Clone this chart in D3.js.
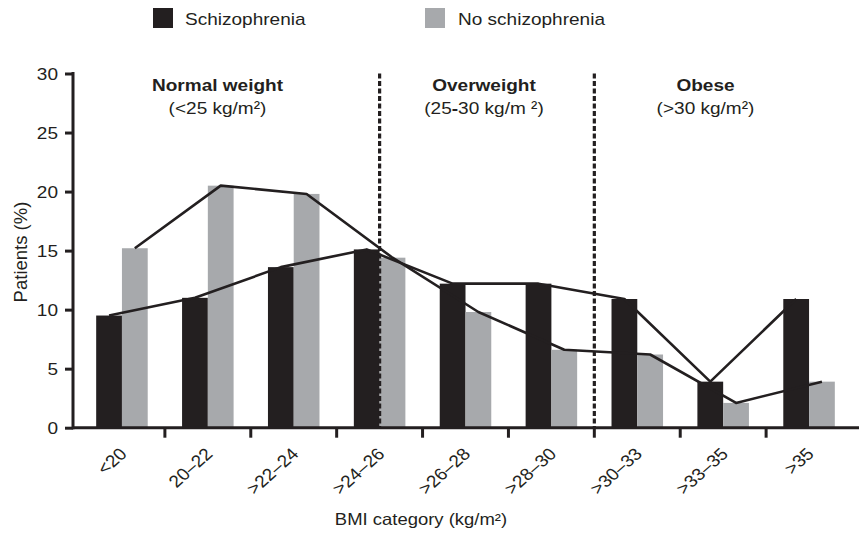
<!DOCTYPE html>
<html>
<head>
<meta charset="utf-8">
<script src="https://cdn.jsdelivr.net/npm/d3@7"></script>
<style>
  html, body { margin: 0; padding: 0; background: #fff; }
  svg { display: block; font-family: "Liberation Sans", Arial, Helvetica, sans-serif; }
</style>
</head>
<body>
<svg id="chart" width="859" height="536"></svg>
<script>
const categories = ["<20", "20–22", ">22–24", ">24–26", ">26–28", ">28–30", ">30–33", ">33–35", ">35"];
const schizophrenia = [9.5, 11.0, 13.6, 15.1, 12.2, 12.2, 10.9, 3.9, 10.9];
const noSchizophrenia = [15.2, 20.5, 19.8, 14.4, 9.8, 6.6, 6.2, 2.1, 3.9];
const yTicks = [0, 5, 10, 15, 20, 25, 30];
const seriesNames = ["Schizophrenia", "No schizophrenia"];
const groupTitles = ["Normal weight", "Overweight", "Obese"];

const BLACK = "#231f20", GRAY = "#a7a9ac";
const SX = 1.12; // horizontal text stretch of the reference
const svg = d3.select("#chart");

const x = d3.scaleBand().domain(categories).range([79, 852]).paddingInner(0.4).paddingOuter(0.2);
const y = d3.scaleLinear().domain([0, 30]).range([427.7, 73.5]);
const bw = x.bandwidth() / 2;
const axisX = 73;

function stext(g, tx, ty, str, opts = {}) {
  return g.append("text")
    .attr("transform", `translate(${tx},${ty}) scale(${SX},1)` + (opts.rotate ? ` rotate(${opts.rotate})` : ""))
    .attr("text-anchor", opts.anchor || "start")
    .attr("font-size", opts.size || 17)
    .attr("font-weight", opts.weight || "normal")
    .attr("fill", BLACK)
    .text(str);
}

// bars
const bars = svg.append("g");
bars.selectAll("rect.s").data(schizophrenia).join("rect")
  .attr("class", "s")
  .attr("x", (d, i) => x(categories[i]))
  .attr("y", d => y(d))
  .attr("width", bw)
  .attr("height", d => y(0) - y(d))
  .attr("fill", BLACK);
bars.selectAll("rect.n").data(noSchizophrenia).join("rect")
  .attr("class", "n")
  .attr("x", (d, i) => x(categories[i]) + bw)
  .attr("y", d => y(d))
  .attr("width", bw)
  .attr("height", d => y(0) - y(d))
  .attr("fill", GRAY);

// dashed separators (BMI 25 and BMI 30)
const sep1 = x(">24–26") + x.bandwidth() / 2;
const sep2 = x(">30–33") - x.step() * x.paddingInner() / 2;
[sep1, sep2].forEach(sx => {
  svg.append("line")
    .attr("x1", sx).attr("x2", sx)
    .attr("y1", y(30)).attr("y2", y(0))
    .attr("stroke", BLACK).attr("stroke-width", 3.2)
    .attr("stroke-dasharray", "5,2.5");
});

// trend lines
const lineS = d3.line().x((d, i) => x(categories[i]) + bw / 2).y(d => y(d));
const lineN = d3.line().x((d, i) => x(categories[i]) + bw * 1.5).y(d => y(d));
svg.append("path").attr("d", lineN(noSchizophrenia))
  .attr("fill", "none").attr("stroke", BLACK).attr("stroke-width", 2.6).attr("stroke-linejoin", "round");
svg.append("path").attr("d", lineS(schizophrenia))
  .attr("fill", "none").attr("stroke", BLACK).attr("stroke-width", 2.6).attr("stroke-linejoin", "round");

// y axis
const yAxis = svg.append("g").attr("transform", `translate(${axisX},0)`)
  .call(d3.axisLeft(y).tickValues(yTicks).tickSize(8).tickPadding(0).tickSizeOuter(0));
yAxis.select(".domain").remove();
yAxis.selectAll(".tick line").attr("stroke", BLACK).attr("stroke-width", 3);
yAxis.selectAll(".tick text").remove();
yAxis.selectAll(".tick").each(function(d) {
  stext(d3.select(this), -15, 6, d, {anchor: "end", size: 17});
});
svg.append("line").attr("x1", axisX).attr("x2", axisX).attr("y1", y(30) - 1.5).attr("y2", y(0) + 1.5)
  .attr("stroke", BLACK).attr("stroke-width", 3);

// x axis line
svg.append("line").attr("x1", axisX).attr("x2", 859).attr("y1", y(0)).attr("y2", y(0))
  .attr("stroke", BLACK).attr("stroke-width", 3);
const boundaries = categories.slice(1).map(c => x(c) - x.step() * x.paddingInner() / 2);
svg.append("g").selectAll("line").data(boundaries).join("line")
  .attr("x1", d => d).attr("x2", d => d)
  .attr("y1", y(0)).attr("y2", y(0) + 10)
  .attr("stroke", BLACK).attr("stroke-width", 3);
const xl = svg.append("g");
categories.forEach(c => {
  stext(xl, x(c) + x.bandwidth() / 2 + 6, 455, c, {anchor: "end", size: 17, rotate: -45});
});

// axis titles
stext(svg, 421, 525, "BMI category (kg/m²)", {anchor: "middle", size: 16.5});
svg.append("text")
  .attr("transform", `translate(27,252) rotate(-90)`)
  .attr("text-anchor", "middle").attr("font-size", 18.5).attr("fill", BLACK)
  .text("Patients (%)");

// group annotations
const gCenters = [217.5, 484, 705.5];
stext(svg, gCenters[0], 91, groupTitles[0], {anchor: "middle", size: 17, weight: "bold"});
stext(svg, gCenters[0], 114, "(<25 kg/m²)", {anchor: "middle", size: 17});
stext(svg, gCenters[1], 91, groupTitles[1], {anchor: "middle", size: 17, weight: "bold"});
const ow = stext(svg, gCenters[1], 114, "", {anchor: "middle", size: 17});
ow.append("tspan").text("(25");
ow.append("tspan").attr("font-weight", "bold").text("-");
ow.append("tspan").text("30 kg/m ²)");
stext(svg, gCenters[2], 91, groupTitles[2], {anchor: "middle", size: 17, weight: "bold"});
stext(svg, gCenters[2], 114, "(>30 kg/m²)", {anchor: "middle", size: 17});

// legend
const legend = svg.append("g");
const legendItems = [
  {name: seriesNames[0], color: BLACK, x: 153, tx: 185},
  {name: seriesNames[1], color: GRAY, x: 425, tx: 458}
];
legendItems.forEach(it => {
  legend.append("rect").attr("x", it.x).attr("y", 8).attr("width", 20).attr("height", 20).attr("fill", it.color);
  stext(legend, it.tx, 25, it.name, {size: 17});
});
</script>
</body>
</html>
